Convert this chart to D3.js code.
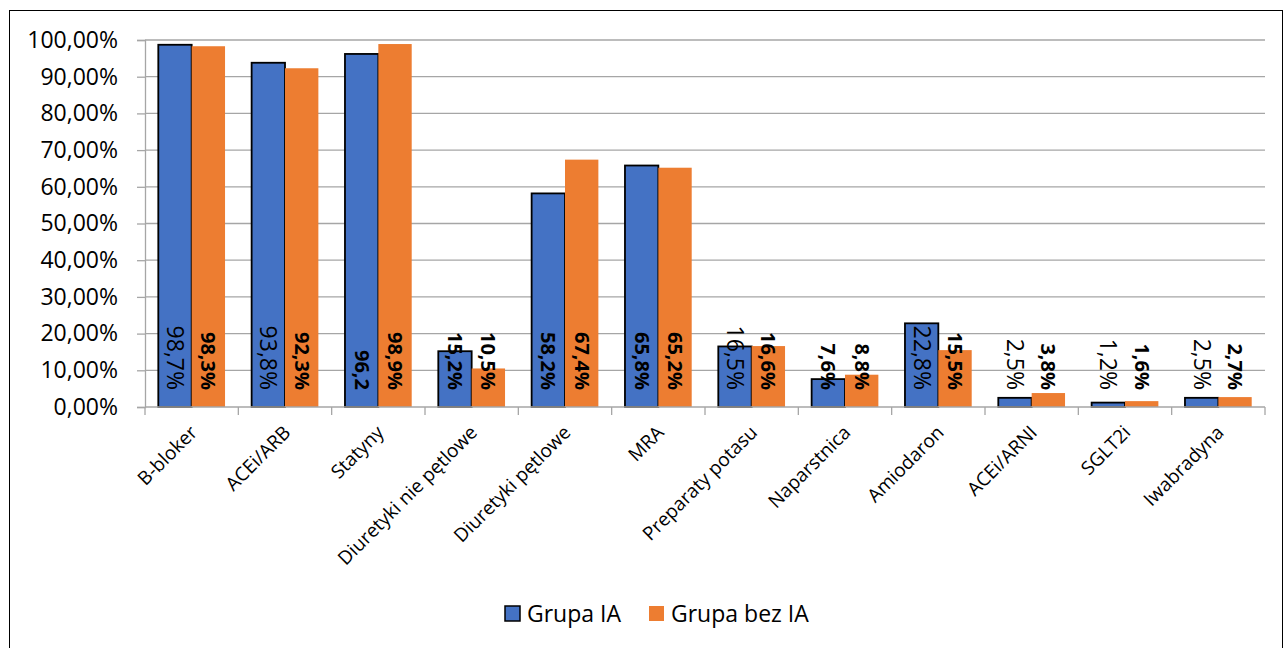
<!DOCTYPE html>
<html>
<head>
<meta charset="utf-8">
<script src="https://cdn.jsdelivr.net/npm/d3@7"></script>
<style>
  body { margin: 0; background: #fff; }
  text { font-family: "Open Sans", "Noto Sans", sans-serif; fill: #000; }
</style>
</head>
<body>
<script>
// categories and series
var categories = ["B-bloker", "ACEi/ARB", "Statyny", "Diuretyki nie pętlowe", "Diuretyki pętlowe",
    "MRA", "Preparaty potasu", "Naparstnica", "Amiodaron", "ACEi/ARNI", "SGLT2i", "Iwabradyna"];
var grupaIA = [98.7, 93.8, 96.2, 15.2, 58.2, 65.8, 16.5, 7.6, 22.8, 2.5, 1.2, 2.5];
var grupaBezIA = [98.3, 92.3, 98.9, 10.5, 67.4, 65.2, 16.6, 8.8, 15.5, 3.8, 1.6, 2.7];
// data labels as printed in the chart
var labelsIA = ["98,7%", "93,8%", "96,2", "15,2%", "58,2%", "65,8%", "16,5%", "7,6%", "22,8%", "2,5%", "1,2%", "2,5%"];
var boldIA = [false, false, true, true, true, true, false, true, false, false, false, false];
var labelsBezIA = ["98,3%", "92,3%", "98,9%", "10,5%", "67,4%", "65,2%", "16,6%", "8,8%", "15,5%", "3,8%", "1,6%", "2,7%"];
var yTicks = [0, 10, 20, 30, 40, 50, 60, 70, 80, 90, 100];
var seriesNames = ["Grupa IA", "Grupa bez IA"];
var colors = ["#4472c4", "#ed7d31"];

var W = 1285, H = 648;
var margin = {top: 40, left: 145};
var w = 1120, h = 367;

var svg = d3.select("body").append("svg")
    .attr("width", W)
    .attr("height", H);

// chart frame
svg.append("rect")
    .attr("x", 9.5).attr("y", 10.5)
    .attr("width", 1273).attr("height", 660)
    .attr("fill", "none")
    .attr("stroke", "#000")
    .attr("stroke-width", 1);

var g = svg.append("g")
    .attr("transform", "translate(" + margin.left + "," + margin.top + ")");

var x0 = d3.scaleBand()
    .domain(categories)
    .range([0, w])
    .paddingInner(0)
    .paddingOuter(0);

var x1 = d3.scaleBand()
    .domain([0, 1])
    .range([13.3, x0.bandwidth() - 13.3]);

var y = d3.scaleLinear()
    .domain([0, 100])
    .range([h, 0]);

// gridlines
g.selectAll(".grid")
    .data(yTicks.slice(1))
    .enter().append("line")
    .attr("x1", 0).attr("x2", w)
    .attr("y1", function(d) { return y(d); })
    .attr("y2", function(d) { return y(d); })
    .attr("stroke", "#a6a6a6")
    .attr("stroke-width", 1.3);

// y axis
var yAxis = d3.axisLeft(y)
    .tickValues(yTicks)
    .tickSize(8)
    .tickPadding(19)
    .tickFormat(function(d) { return d + ",00%"; });
var ya = g.append("g").call(yAxis);
ya.select(".domain").attr("stroke", "#a6a6a6").attr("stroke-width", 1.3);
ya.selectAll(".tick line").attr("stroke", "#a6a6a6").attr("stroke-width", 1.3);
ya.selectAll(".tick text")
    .style("font-family", "'Open Sans', sans-serif")
    .style("font-size", "23px")
    .attr("fill", "#000");

// bars
var groups = g.selectAll(".cat")
    .data(categories)
    .enter().append("g")
    .attr("transform", function(d) { return "translate(" + x0(d) + ",0)"; });

groups.append("rect")
    .attr("x", x1(0))
    .attr("width", x1.bandwidth())
    .attr("y", function(d, i) { return y(grupaIA[i]); })
    .attr("height", function(d, i) { return h - y(grupaIA[i]); })
    .attr("fill", colors[0])
    .attr("stroke", "#000")
    .attr("stroke-width", 1.8);

groups.append("rect")
    .attr("x", x1(1))
    .attr("width", x1.bandwidth())
    .attr("y", function(d, i) { return y(grupaBezIA[i]); })
    .attr("height", function(d, i) { return h - y(grupaBezIA[i]); })
    .attr("fill", colors[1]);

// x axis
var xAxisLine = g.append("g").attr("transform", "translate(0," + h + ")");
xAxisLine.append("line")
    .attr("x1", 0).attr("x2", w)
    .attr("stroke", "#a6a6a6").attr("stroke-width", 1.3);
xAxisLine.selectAll(".xt")
    .data(d3.range(categories.length + 1))
    .enter().append("line")
    .attr("x1", function(i) { return i * x0.step(); })
    .attr("x2", function(i) { return i * x0.step(); })
    .attr("y1", 0).attr("y2", 8)
    .attr("stroke", "#a6a6a6").attr("stroke-width", 1.3);

xAxisLine.selectAll(".xl")
    .data(categories)
    .enter().append("text")
    .attr("transform", function(d) {
        return "translate(" + (x0(d) + x0.bandwidth() / 2 + 2) + ",22) rotate(-45)";
    })
    .attr("text-anchor", "end")
    .attr("dy", "0.35em")
    .style("font-size", "19px")
    .text(function(d) { return d; });

// data labels (rotated 90deg, text end near the axis)
function addLabels(idx, labels, boldFn) {
    groups.append("text")
        .attr("transform", function(d) {
            return "translate(" + (x1(idx) + x1.bandwidth() / 2) + "," + (h - 17) + ") rotate(90)";
        })
        .attr("text-anchor", "end")
        .attr("dy", "0.35em")
        .style("font-size", function(d, i) { return boldFn(i) ? "20px" : "23px"; })
        .style("font-weight", function(d, i) { return boldFn(i) ? "bold" : "normal"; })
        .text(function(d, i) { return labels[i]; });
}
addLabels(0, labelsIA, function(i) { return boldIA[i]; });
addLabels(1, labelsBezIA, function() { return true; });

// legend
var legend = svg.append("g").attr("transform", "translate(505,606)");
var items = legend.selectAll(".li")
    .data(seriesNames)
    .enter().append("g")
    .attr("transform", function(d, i) { return "translate(" + (i * 144) + ",0)"; });
items.append("rect")
    .attr("width", 15).attr("height", 15)
    .attr("fill", function(d, i) { return colors[i]; })
    .attr("stroke", function(d, i) { return i === 0 ? "#000" : "none"; })
    .attr("stroke-width", 1.5);
items.append("text")
    .attr("x", 22).attr("y", 8)
    .attr("dy", "0.35em")
    .style("font-size", "23px")
    .text(function(d) { return d; });
</script>
</body>
</html>
